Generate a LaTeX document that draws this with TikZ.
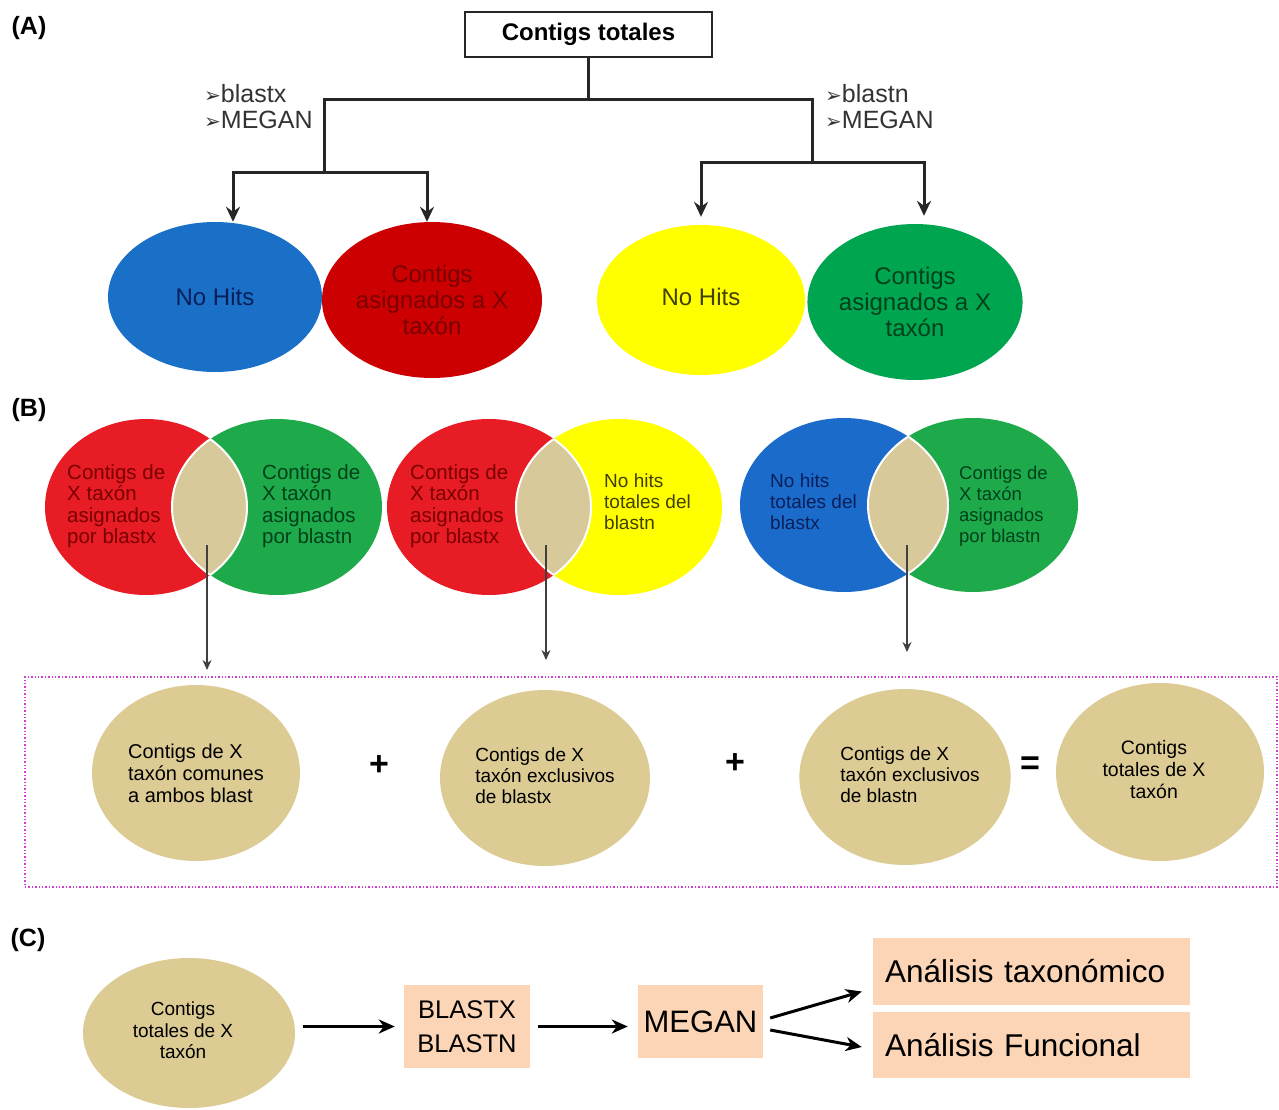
\documentclass[tikz,border=0pt]{standalone}
\usepackage{fontspec}
\setmainfont{Liberation Sans}
\newfontfamily\dv{DejaVu Sans}
\usetikzlibrary{shapes.geometric,arrows.meta}
\definecolor{cBlue}{HTML}{1A6FC6}
\definecolor{cRed}{HTML}{CC0000}
\definecolor{cRedB}{HTML}{E81C24}
\definecolor{cYel}{HTML}{FFFF00}
\definecolor{cGreen}{HTML}{00A550}
\definecolor{cGreenB}{HTML}{1EAA4B}
\definecolor{cBlueB}{HTML}{1B6BCB}
\definecolor{cTan}{HTML}{DCCB93}
\definecolor{cLens}{HTML}{D8C99B}
\definecolor{cPeach}{HTML}{FBD5B5}
\definecolor{cMag}{HTML}{D43CD4}
\definecolor{tBlue}{HTML}{0A1F5A}
\definecolor{tRed}{HTML}{7A0000}
\definecolor{tYel}{HTML}{404000}
\definecolor{tGreen}{HTML}{00401A}
\newcommand\arrowmark{{\dv\fontsize{20}{20}\selectfont ➢}}
\begin{document}
\begin{tikzpicture}[x=1pt,y=-1pt,
  blob/.style={ellipse, inner sep=0pt, align=center},
  atext/.style={font=\fontsize{24}{26}\selectfont},
  ltext/.style={font=\fontsize{25}{26}\selectfont},
  vtext/.style={align=left, inner sep=0pt, anchor=west, font=\fontsize{20.5}{21.5}\selectfont},
  ttext/.style={font=\fontsize{19.5}{22}\selectfont},
  tree/.style={draw=black!85, line width=3pt, line cap=rect},
  treearr/.style={tree, -{Stealth[length=15pt,width=14pt,inset=5pt]}},
  thinarr/.style={draw=black!75, line width=1.3pt, -{Stealth[length=10pt,width=9pt]}},
  carr/.style={draw=black, line width=3pt, -{Stealth[length=16pt,width=14pt,inset=5pt]}},
  pbox/.style={fill=cPeach, inner sep=0pt, align=center},
  lbl/.style={font=\fontsize{25}{27}\selectfont\bfseries},
  op/.style={font=\fontsize{34}{34}\selectfont\bfseries},
  lensline/.style={draw=white, line width=2pt}
]
\useasboundingbox[fill=white] (0,0) rectangle (1279,1110);

% ---------------- (A) ----------------
\node[lbl] (la) at (29,28) {(A)};
\node[draw=black!85, line width=2.2pt, minimum width=247pt, minimum height=45pt, inner sep=0pt,
      font=\fontsize{24}{26}\selectfont\bfseries] (top) at (588.5,34.5) {Contigs totales};

\node[blob, fill=cBlue, minimum width=214pt, minimum height=150pt, text=tBlue, atext] (b1) at (215,297) {No Hits};
\node[blob, fill=cRed, minimum width=220pt, minimum height=156pt, text=tRed, atext] (r1) at (432,300) {Contigs\\asignados a X\\taxón};
\node[blob, fill=cYel, minimum width=208pt, minimum height=150pt, text=tYel, atext] (y1) at (701,300) {\raisebox{6pt}{No Hits}};
\node[blob, fill=cGreen, minimum width=210pt, minimum height=156pt, text=tGreen, atext] (g1) at (915,302) {Contigs\\asignados a X\\taxón};

\coordinate (jL) at (324,100);
\coordinate (jR) at (812,100);
\coordinate (sL) at (324,173);
\coordinate (sR) at (812,163);
\draw[tree] (top.south) -- (top.south |- jL);
\draw[tree] (jL) -- (jR);
\draw[treearr] (jL) -- (sL) -| ([xshift=18pt]b1.north);
\draw[treearr] (sL) -| ([xshift=-5pt]r1.north);
\draw[treearr] (jR) -- (sR) -| ([yshift=8pt]y1.north);
\draw[treearr] (sR) -| ([xshift=9pt,yshift=8pt]g1.north);

\node[ltext, align=left, anchor=west, inner sep=0pt, text=black!80] (tl) at (204,107) {\arrowmark blastx\\\arrowmark MEGAN};
\node[ltext, align=left, anchor=west, inner sep=0pt, text=black!80] (tr) at (825,107) {\arrowmark blastn\\\arrowmark MEGAN};

% ---------------- (B) ----------------
\node[lbl] (lb) at (29,410) {(B)};

% venn 1
\node[blob, fill=cRedB, minimum width=202pt, minimum height=176pt] (v1a) at (146,507) {};
\node[blob, fill=cGreenB, minimum width=210pt, minimum height=176pt] (v1b) at (277,507) {};
\begin{scope}
  \clip (146,507) ellipse [x radius=101pt, y radius=88pt];
  \fill[cLens] (277,507) ellipse [x radius=105pt, y radius=88pt];
  \draw[lensline] (277,507) ellipse [x radius=105pt, y radius=88pt];
\end{scope}
\begin{scope}
  \clip (277,507) ellipse [x radius=105pt, y radius=88pt];
  \draw[lensline] (146,507) ellipse [x radius=101pt, y radius=88pt];
\end{scope}
\node[vtext, text=tRed] (v1at) at (67,506) {Contigs de\\X taxón\\asignados\\por blastx};
\node[vtext, text=tGreen] (v1bt) at (262,506) {Contigs de\\X taxón\\asignados\\por blastn};

% venn 2
\node[blob, fill=cRedB, minimum width=204pt, minimum height=176pt] (v2a) at (489,507) {};
\node[blob, fill=cYel, minimum width=206pt, minimum height=176pt] (v2b) at (619,507) {};
\begin{scope}
  \clip (489,507) ellipse [x radius=102pt, y radius=88pt];
  \fill[cLens] (619,507) ellipse [x radius=103pt, y radius=88pt];
  \draw[lensline] (619,507) ellipse [x radius=103pt, y radius=88pt];
\end{scope}
\begin{scope}
  \clip (619,507) ellipse [x radius=103pt, y radius=88pt];
  \draw[lensline] (489,507) ellipse [x radius=102pt, y radius=88pt];
\end{scope}
\node[vtext, text=tRed] (v2at) at (410,506) {Contigs de\\X taxón\\asignados\\por blastx};
\node[vtext, text=tYel, font=\fontsize{19}{21}\selectfont] (v2bt) at (604,502) {No hits\\totales del\\blastn};

% venn 3
\node[blob, fill=cBlueB, minimum width=208pt, minimum height=174pt] (v3a) at (844,505) {};
\node[blob, fill=cGreenB, minimum width=210pt, minimum height=174pt] (v3b) at (973,505) {};
\begin{scope}
  \clip (844,505) ellipse [x radius=104pt, y radius=87pt];
  \fill[cLens] (973,505) ellipse [x radius=105pt, y radius=87pt];
  \draw[lensline] (973,505) ellipse [x radius=105pt, y radius=87pt];
\end{scope}
\begin{scope}
  \clip (973,505) ellipse [x radius=105pt, y radius=87pt];
  \draw[lensline] (844,505) ellipse [x radius=104pt, y radius=87pt];
\end{scope}
\node[vtext, text=tBlue, font=\fontsize{19}{21}\selectfont] (v3at) at (770,502) {No hits\\totales del\\blastx};
\node[vtext, text=tGreen, font=\fontsize{18.5}{21}\selectfont] (v3bt) at (959,506) {Contigs de\\X taxón\\asignados\\por blastn};

% arrows from lenses
\coordinate (l1) at (207,545);
\coordinate (l1e) at (207,670);
\coordinate (l2) at (546,545);
\coordinate (l2e) at (546,660);
\coordinate (l3) at (907,545);
\coordinate (l3e) at (907,652);
\draw[thinarr] (l1) -- (l1e);
\draw[thinarr] (l2) -- (l2e);
\draw[thinarr] (l3) -- (l3e);

% dotted box
\node[draw=cMag, line width=1.6pt, dash pattern=on 1.4pt off 2pt, minimum width=1252pt, minimum height=210pt, inner sep=0pt] (sumbox) at (651,782) {};

\node[blob, fill=cTan, minimum width=208pt, minimum height=176pt, ttext, align=left, font=\fontsize{20}{22}\selectfont] (e1) at (196,773) {Contigs de X\\taxón comunes\\a ambos blast};
\node[blob, fill=cTan, minimum width=210pt, minimum height=176pt, ttext, align=left, font=\fontsize{19}{21}\selectfont] (e2) at (545,778) {\raisebox{8pt}{\begin{tabular}{@{}l@{}}Contigs de X\\taxón exclusivos\\de blastx\end{tabular}}};
\node[blob, fill=cTan, minimum width=210pt, minimum height=176pt, ttext, align=left, font=\fontsize{19}{21}\selectfont] (e3) at (905,777) {\hspace*{10pt}\begin{tabular}{@{}l@{}}Contigs de X\\taxón exclusivos\\de blastn\end{tabular}};
\node[blob, fill=cTan, minimum width=208pt, minimum height=178pt, ttext, align=center] (e4) at (1160,772) {\hspace*{-12pt}\begin{tabular}{@{}c@{}}Contigs\\totales de X\\taxón\end{tabular}};

\node[op] (p1) at (379,766) {+};
\node[op] (p2) at (735,764) {+};
\node[op] (eq) at (1030,766) {=};

% ---------------- (C) ----------------
\node[lbl] (lc) at (28,940) {(C)};
\node[blob, fill=cTan, minimum width=212pt, minimum height=150pt, font=\fontsize{19}{21.5}\selectfont] (c0) at (189,1033) {\raisebox{8pt}{\begin{tabular}{@{}c@{}}Contigs\\totales de X\\taxón\end{tabular}}\hspace*{12pt}};
\node[pbox, minimum width=126pt, minimum height=83pt, font=\fontsize{25.5}{34}\selectfont] (bl) at (467,1026.5) {BLASTX\\BLASTN};
\node[pbox, minimum width=125pt, minimum height=73pt, font=\fontsize{31}{32}\selectfont] (meg) at (700.5,1021.5) {MEGAN};
\node[pbox, minimum width=317pt, minimum height=67pt, inner xsep=12pt, text width=293pt, align=left, font=\fontsize{31.5}{32}\selectfont] (t1) at (1031.5,971.5) {Análisis taxonómico};
\node[pbox, minimum width=317pt, minimum height=66pt, inner xsep=12pt, text width=293pt, align=left, font=\fontsize{31.5}{32}\selectfont] (t2) at (1031.5,1045) {Análisis Funcional};

\draw[carr, shorten <=8pt, shorten >=9pt] (c0.east |- bl.west) -- (bl.west);
\draw[carr, shorten <=8pt, shorten >=10pt] (bl.east) -- (bl.east -| meg.west);
\draw[carr] ([xshift=7pt,yshift=3.5pt]meg.east) -- ([xshift=-11pt,yshift=-20pt]t1.west);
\draw[carr] ([xshift=7pt,yshift=-8.5pt]meg.east) -- ([xshift=-11pt,yshift=-2pt]t2.west);
\end{tikzpicture}
\end{document}
